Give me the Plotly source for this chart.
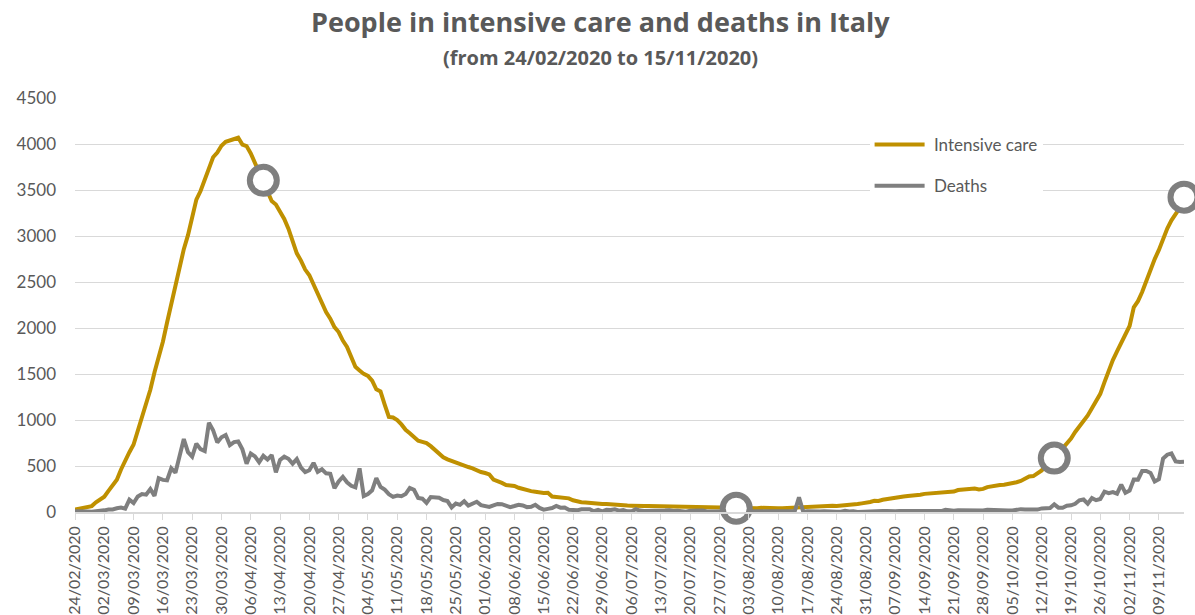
import pandas as pd
import plotly.graph_objects as go

start_date = "2020-02-24"

intensive_care = [
    26, 35, 36, 56, 64, 105, 140, 166, 229, 295, 351, 462, 567, 650, 733, 877,
    1028, 1153, 1328, 1518, 1672, 1851, 2060, 2257, 2498, 2655, 2857, 3009, 3204,
    3396, 3489, 3612, 3732, 3856, 3906, 3981, 4023, 4035, 4053, 4068, 3994, 3977,
    3898, 3792, 3693, 3605, 3497, 3381, 3343, 3260, 3186, 3079, 2936, 2812, 2733,
    2635, 2573, 2471, 2384, 2267, 2173, 2102, 2009, 1956, 1863, 1795, 1694, 1578,
    1539, 1501, 1479, 1427, 1333, 1311, 1168, 1034, 1027, 999, 952, 893, 855, 808,
    775, 762, 749, 716, 676, 640, 595, 572, 553, 541, 521, 505, 489, 475, 450, 435,
    424, 408, 353, 338, 316, 293, 287, 283, 263, 249, 236, 227, 220, 209, 207, 209,
    168, 163, 161, 152, 148, 127, 115, 107, 103, 97, 94, 91, 87, 87, 82, 79, 74,
    72, 71, 69, 71, 67, 65, 65, 64, 62, 65, 60, 57, 54, 52, 52, 52, 48, 49, 49,
    48, 49, 44, 43, 43, 42, 41, 40, 41, 42, 42, 41, 38, 41, 45, 42, 49, 46, 42,
    42, 44, 55, 56, 58, 58, 56, 58, 64, 65, 66, 68, 69, 66, 69, 70, 74, 79, 86,
    94, 107, 109, 121, 120, 133, 142, 143, 150, 164, 168, 174, 175, 182, 187, 197,
    201, 207, 208, 215, 222, 220, 222, 239, 242, 244, 246, 254, 246, 251, 271, 280,
    291, 294, 297, 303, 319, 323, 337, 358, 387, 390, 420, 452, 514, 539, 586, 638,
    705, 750, 797, 870, 926, 992, 1049, 1128, 1208, 1284, 1411, 1536, 1651, 1746,
    1843, 1939, 2022, 2225, 2292, 2391, 2515, 2634, 2749, 2849, 2971, 3081, 3170,
    3230, 3306, 3422,
]

deaths = [
    7, 3, 2, 5, 4, 8, 5, 18, 27, 28, 41, 49, 36, 133, 97, 168, 196, 189, 250, 175,
    368, 349, 345, 475, 427, 627, 793, 651, 601, 743, 683, 662, 969, 889, 756, 812,
    837, 727, 760, 766, 681, 525, 636, 604, 542, 610, 570, 619, 431, 566, 602, 578,
    525, 575, 482, 433, 454, 534, 437, 464, 420, 415, 260, 333, 382, 323, 285, 269,
    474, 174, 195, 236, 369, 274, 243, 194, 165, 179, 172, 195, 262, 242, 153, 145,
    99, 162, 161, 156, 130, 119, 50, 92, 78, 117, 70, 87, 111, 75, 60, 55, 71, 88,
    85, 72, 53, 65, 79, 71, 53, 56, 78, 44, 26, 34, 43, 66, 47, 49, 24, 23, 18, 30,
    34, 30, 8, 24, 6, 23, 21, 30, 15, 21, 7, 8, 30, 15, 12, 12, 7, 9, 13, 17, 20,
    11, 13, 11, 3, 13, 15, 9, 15, 5, 5, 5, 2, 11, 10, 5, 9, 3, 3, 5, 6, 10, 6, 6,
    12, 5, 5, 6, 4, 3, 10, 159, 4, 7, 4, 6, 6, 9, 4, 7, 4, 4, 13, 5, 9, 1, 4, 6,
    6, 10, 6, 10, 11, 7, 7, 10, 10, 10, 10, 14, 7, 14, 9, 9, 10, 10, 24, 15, 14,
    20, 19, 17, 20, 24, 17, 16, 24, 24, 23, 20, 27, 17, 16, 28, 31, 28, 24, 29, 26,
    39, 41, 43, 83, 47, 47, 69, 73, 89, 127, 136, 91, 151, 128, 141, 221, 205, 217,
    199, 297, 208, 233, 353, 352, 445, 446, 425, 331, 356, 580, 623, 636, 550, 544,
    546,
]

highlight_dates = ["2020-04-09", "2020-07-31", "2020-10-15", "2020-11-15"]

dates = pd.date_range(start_date, periods=len(intensive_care), freq="D")
ic_series = pd.Series(intensive_care, index=dates)
hl_x = pd.to_datetime(highlight_dates)
hl_y = [ic_series[d] for d in hl_x]

GOLD = "#BF9000"
GREY = "#7F7F7F"
TEXT = "#595959"
GRID = "#D9D9D9"
FONT = "Lato"
TITLE_FONT = "Open Sans"

fig = go.Figure()
fig.add_trace(go.Scatter(
    x=dates, y=intensive_care, mode="lines", name="\u00a0Intensive care",
    line=dict(color=GOLD, width=4), legendgroup="a", cliponaxis=False,
))
fig.add_trace(go.Scatter(
    x=dates, y=deaths[:len(dates)], mode="lines", name="\u00a0Deaths",
    line=dict(color=GREY, width=4), legendgroup="b", cliponaxis=False,
))
fig.add_trace(go.Scatter(
    x=hl_x, y=hl_y, mode="markers", showlegend=False,
    marker=dict(size=27, color="white", line=dict(color=GREY, width=6)),
    cliponaxis=False, hoverinfo="skip",
))

fig.update_layout(
    width=1195, height=615,
    margin=dict(l=75, r=11, t=98, b=103),
    paper_bgcolor="white", plot_bgcolor="white",
    font=dict(family=FONT, color=TEXT, size=16),
    showlegend=True,
    legend=dict(
        x=0.7165, y=0.93, xanchor="left", yanchor="top",
        bgcolor="white", font=dict(size=17, color=TEXT),
        traceorder="grouped", tracegroupgap=16, itemwidth=50,
    ),
    annotations=[
        dict(text="<b>People in intensive care and deaths in Italy</b>",
             xref="paper", yref="paper", x=0.4734, y=1.1836,
             xanchor="center", yanchor="middle", showarrow=False,
             font=dict(size=27, color=TEXT, family=TITLE_FONT)),
        dict(text="<b>(from 24/02/2020 to 15/11/2020)</b>",
             xref="paper", yref="paper", x=0.4734, y=1.099,
             xanchor="center", yanchor="middle", showarrow=False,
             font=dict(size=20, color=TEXT, family=TITLE_FONT)),
    ],
)

fig.update_xaxes(
    type="date", range=[dates[0], dates[-1]], automargin=False,
    tick0=start_date, dtick=7 * 86400000, tickformat="%d/%m/%Y",
    tickangle=-90, ticks="outside", ticklen=6, tickcolor=GRID,
    showline=True, linecolor=GRID, linewidth=1.5, showgrid=False,
    tickfont=dict(size=16, color=TEXT), zeroline=False,
)
fig.update_yaxes(
    range=[0, 4500], dtick=500, showgrid=True, gridcolor=GRID, gridwidth=1.3,
    zeroline=False, showline=False, tickfont=dict(size=17, color=TEXT),
    ticks="", ticklabelstandoff=18, automargin=False,
)

fig.write_html("out.html")
